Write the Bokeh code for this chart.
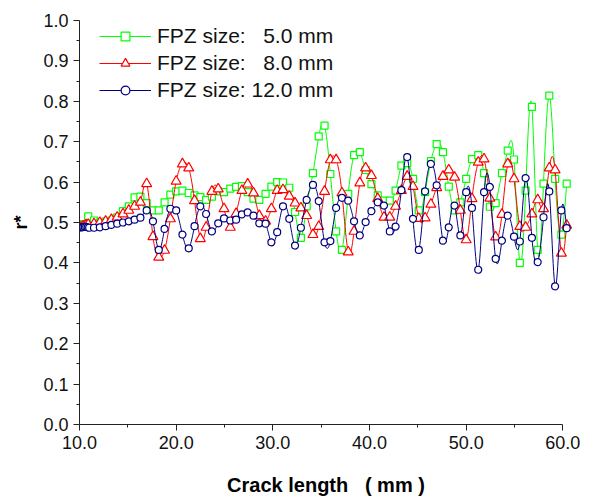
import numpy as np
from bokeh.plotting import figure
from bokeh.models import (FixedTicker, NumeralTickFormatter, Legend, LegendItem,
                          Range1d)
from bokeh.embed import file_html
from bokeh.resources import INLINE

# ---------------- data ----------------
X_COMMON = [11.5, 12.1, 12.7, 13.3, 13.9, 14.5, 15.1, 15.7, 16.3, 16.95,
            17.6, 18.2, 18.8, 19.4, 20.0, 20.65, 21.3, 21.9, 22.5, 23.1,
            23.7, 24.35, 24.95, 25.6, 26.2, 26.8, 27.4, 28.0, 28.6, 29.25,
            29.85, 30.45, 31.05, 31.7, 32.3, 32.9, 33.5, 34.15, 34.75, 35.35,
            35.95, 36.55, 37.15, 37.8, 38.4, 39.0, 39.6, 40.2, 40.85, 41.5,
            42.1, 42.7, 43.3, 43.9, 44.5, 45.1, 45.75, 46.35, 46.95, 47.6,
            48.2, 48.8, 49.4, 50.0, 50.6, 51.25, 51.85, 52.45, 53.05, 53.7,
            54.3, 54.95, 55.55, 56.15, 56.8, 57.4, 58.0, 58.6, 59.2, 59.85, 60.4]

x_start_5 = [10.1, 10.3, 10.9]
r_start_5 = [0.492, 0.496, 0.515]
x_start_8 = [10.1, 10.3, 10.5, 10.7, 10.9]
r_start_8 = [0.488, 0.490, 0.492, 0.494, 0.495]
x_start_12 = [10.1, 10.25, 10.4, 10.55, 10.7, 10.85, 11.0]
r_start_12 = [0.488, 0.488, 0.489, 0.489, 0.489, 0.488, 0.487]

r_5mm = [0.505, 0.500, 0.502, 0.505, 0.513, 0.528, 0.540, 0.562, 0.564, 0.548,
         0.530, 0.530, 0.550, 0.569, 0.577, 0.579, 0.573, 0.567, 0.563, 0.556,
         0.564, 0.577, 0.575, 0.584, 0.588, 0.590, 0.575, 0.559, 0.556, 0.571,
         0.589, 0.600, 0.599, 0.586, 0.526, 0.462, 0.540, 0.622, 0.713, 0.740,
         0.620, 0.478, 0.432, 0.571, 0.667, 0.674, 0.630, 0.595, 0.567, 0.554,
         0.554, 0.579, 0.641, 0.647, 0.608, 0.530, 0.575, 0.652, 0.694, 0.674,
         0.589, 0.530, 0.550, 0.608, 0.657, 0.667, 0.622, 0.539, 0.548, 0.622,
         0.678, 0.656, 0.400, 0.579, 0.786, 0.432, 0.596, 0.814, 0.608, 0.470, 0.596]

r_8mm = [0.497, 0.500, 0.503, 0.507, 0.513, 0.521, 0.530, 0.540, 0.550, 0.596,
         0.465, 0.414, 0.431, 0.509, 0.602, 0.645, 0.635, 0.554, 0.460, 0.488,
         0.577, 0.583, 0.534, 0.488, 0.522, 0.579, 0.595, 0.573, 0.517, 0.503,
         0.534, 0.579, 0.581, 0.565, 0.548, 0.536, 0.517, 0.470, 0.490, 0.577,
         0.655, 0.655, 0.573, 0.427, 0.478, 0.598, 0.635, 0.616, 0.559, 0.513,
         0.513, 0.540, 0.579, 0.614, 0.589, 0.510, 0.511, 0.545, 0.586, 0.614,
         0.630, 0.612, 0.530, 0.457, 0.559, 0.649, 0.657, 0.560, 0.464, 0.520,
         0.645, 0.608, 0.490, 0.488, 0.521, 0.556, 0.534, 0.635, 0.630, 0.424, 0.493]

r_12mm = [0.487, 0.488, 0.491, 0.494, 0.497, 0.500, 0.503, 0.507, 0.512, 0.530,
          0.503, 0.432, 0.484, 0.534, 0.530, 0.470, 0.436, 0.491, 0.540, 0.521,
          0.478, 0.498, 0.510, 0.505, 0.507, 0.520, 0.525, 0.517, 0.498, 0.497,
          0.451, 0.476, 0.540, 0.509, 0.443, 0.487, 0.556, 0.593, 0.553, 0.451,
          0.454, 0.536, 0.561, 0.554, 0.503, 0.468, 0.501, 0.528, 0.550, 0.542,
          0.478, 0.490, 0.580, 0.662, 0.509, 0.432, 0.577, 0.645, 0.592, 0.455,
          0.488, 0.542, 0.468, 0.575, 0.536, 0.383, 0.575, 0.588, 0.410, 0.455,
          0.517, 0.465, 0.453, 0.610, 0.462, 0.402, 0.513, 0.577, 0.342, 0.530, 0.486]

NB = "\u00a0"
labels = ["FPZ size:" + NB * 3 + "5.0 mm",
          "FPZ size:" + NB * 3 + "8.0 mm",
          "FPZ size: 12.0 mm"]
X_TITLE = "Crack length" + NB * 3 + "( mm )"
Y_TITLE = "r*"
X_TICKS = [10, 20, 30, 40, 50, 60]
X_MINOR = [15, 25, 35, 45, 55]
Y_TICKS = [0.0, 0.1, 0.2, 0.3, 0.4, 0.5, 0.6, 0.7, 0.8, 0.9, 1.0]
Y_MINOR = [0.05, 0.15, 0.25, 0.35, 0.45, 0.55, 0.65, 0.75, 0.85, 0.95]


def natural_spline(xs, ys, per=12):
    x = np.asarray(xs, float)
    y = np.asarray(ys, float)
    n = len(x)
    h = np.diff(x)
    A = np.zeros((n, n))
    b = np.zeros(n)
    A[0, 0] = 1.0
    A[-1, -1] = 1.0
    for i in range(1, n - 1):
        A[i, i - 1] = h[i - 1]
        A[i, i] = 2 * (h[i - 1] + h[i])
        A[i, i + 1] = h[i]
        b[i] = 3 * ((y[i + 1] - y[i]) / h[i] - (y[i] - y[i - 1]) / h[i - 1])
    c = np.linalg.solve(A, b)
    xo, yo = [], []
    for i in range(n - 1):
        bi = (y[i + 1] - y[i]) / h[i] - h[i] * (2 * c[i] + c[i + 1]) / 3
        di = (c[i + 1] - c[i]) / (3 * h[i])
        t = np.linspace(0, h[i], per, endpoint=False)
        xo.extend(x[i] + t)
        yo.extend(y[i] + bi * t + c[i] * t ** 2 + di * t ** 3)
    xo.append(x[-1])
    yo.append(y[-1])
    return xo, yo


FONT = "Liberation Sans"

p = figure(frame_width=493, frame_height=404,
           x_range=Range1d(10, 61), y_range=Range1d(0, 1),
           output_backend="svg", toolbar_location=None,
           min_border_left=79, min_border_right=8,
           min_border_top=20, min_border_bottom=74)
p.grid.visible = False
p.outline_line_color = None
p.background_fill_color = "white"
p.border_fill_color = "white"

series = [
    (x_start_5 + X_COMMON, r_start_5 + r_5mm, "#00ff00", "square", 7),
    (x_start_8 + X_COMMON, r_start_8 + r_8mm, "#ff0000", "triangle", 10),
    (x_start_12 + X_COMMON, r_start_12 + r_12mm, "#000080", "circle", 7),
]

items = []
for (xs, ys, col, mk, sz), lab in zip(series, labels):
    sx, sy = natural_spline(xs, ys)
    ln = p.line(x=sx, y=sy, line_color=col, line_width=1)
    sc = p.scatter(x=xs, y=ys, marker=mk, size=sz, line_color=col,
                   fill_color="white", line_width=1.2)
    items.append(LegendItem(label=lab, renderers=[ln, sc]))

# legend: bottom-left corner given in frame screen units
legend = Legend(items=items, location=(20, 322))
legend.border_line_color = None
legend.background_fill_alpha = 0
legend.padding = 0
legend.margin = 0
legend.spacing = 3
legend.glyph_width = 52
legend.glyph_height = 22
legend.label_height = 22
legend.label_standoff = 6
legend.label_text_font = FONT
legend.label_text_font_size = "21px"
legend.label_text_color = "#111111"
p.add_layout(legend)

xa = p.xaxis[0]
xa.ticker = FixedTicker(ticks=X_TICKS, minor_ticks=X_MINOR)
xa.formatter = NumeralTickFormatter(format="0.0")
xa.bounds = (10, 60)
xa.axis_label = X_TITLE
ya = p.yaxis[0]
ya.ticker = FixedTicker(ticks=Y_TICKS, minor_ticks=Y_MINOR)
ya.formatter = NumeralTickFormatter(format="0.0")
ya.bounds = (0, 1)
ya.axis_label = Y_TITLE

for ax in (xa, ya):
    ax.axis_line_color = "#222222"
    ax.axis_line_width = 1
    ax.major_tick_line_color = "#222222"
    ax.minor_tick_line_color = "#222222"
    ax.major_tick_in = 0
    ax.major_tick_out = 6
    ax.minor_tick_in = 0
    ax.minor_tick_out = 3
    ax.major_label_text_font = FONT
    ax.major_label_text_font_size = "18px"
    ax.major_label_text_color = "#111111"
    ax.major_label_standoff = 5
    ax.axis_label_text_font = FONT
    ax.axis_label_text_font_style = "bold"
    ax.axis_label_text_color = "#000000"

xa.axis_label_text_font_size = "20px"
xa.axis_label_standoff = 22
ya.axis_label_text_font_size = "18px"
ya.axis_label_standoff = 9

open("out.html", "w").write(file_html(p, INLINE))
